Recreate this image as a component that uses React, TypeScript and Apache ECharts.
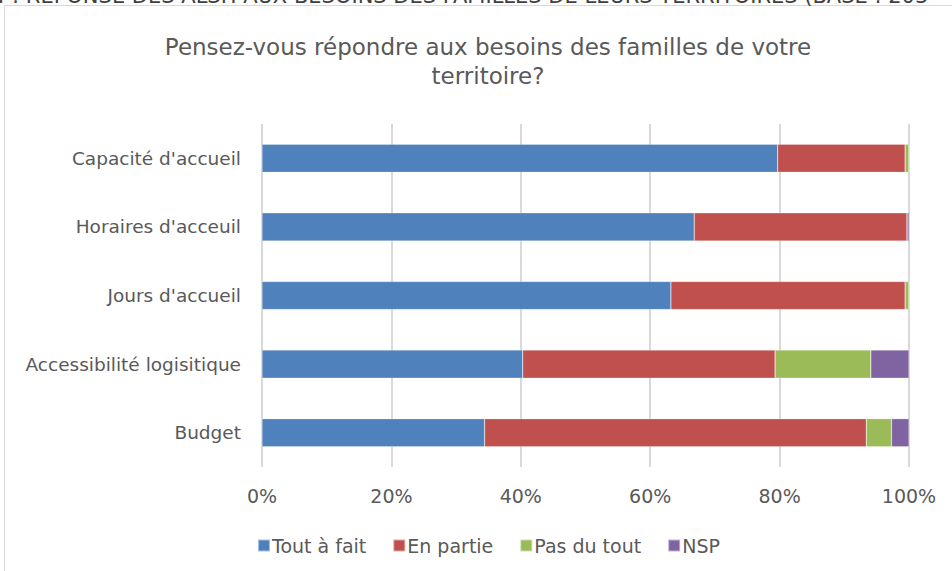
import React, { useEffect, useRef } from "react";
import * as echarts from "echarts";

const categories = [
  "Budget",
  "Accessibilité logisitique",
  "Jours d'accueil",
  "Horaires d'acceuil",
  "Capacité d'accueil",
];
const toutAFait = [34.4, 40.3, 63.2, 66.8, 79.7];
const enPartie = [59.0, 39.0, 36.2, 32.9, 19.7];
const pasDuTout = [3.9, 14.8, 0.6, 0, 0.6];
const nsp = [2.7, 5.9, 0, 0.3, 0];
const seriesNames = ["Tout à fait", "En partie", "Pas du tout", "NSP"];
const colors = ["#4F81BD", "#C0504D", "#9BBB59", "#8064A2"];
const titleText = "Pensez-vous répondre aux besoins des familles de votre\nterritoire?";
const headerText =
  "4 : RÉPONSE DES ALSH AUX BESOINS DES FAMILLES DE LEURS TERRITOIRES (BASE : 203";

const FONT = "DejaVu Sans";
const GRAY = "#595959";

export default function App() {
  const ref = useRef<HTMLDivElement>(null);
  useEffect(() => {
    if (!ref.current) return;
    const chart = echarts.init(ref.current, undefined, { renderer: "svg" });
    const values = [toutAFait, enPartie, pasDuTout, nsp];
    chart.setOption({
      animation: false,
      backgroundColor: "#ffffff",
      textStyle: { fontFamily: FONT },
      graphic: [
        {
          type: "rect",
          shape: { x: 4.5, y: 5.5, width: 1000, height: 700 },
          style: { fill: "none", stroke: "#D9D9D9", lineWidth: 1 },
          silent: true,
        },
        {
          type: "text",
          x: -8,
          y: -4,
          style: {
            text: headerText,
            font: `21px "${FONT}"`,
            fill: "#404040",
            textAlign: "left",
            textVerticalAlign: "middle",
          },
          silent: true,
        },
        {
          type: "text",
          x: 488,
          y: 32,
          style: {
            text: titleText,
            font: `23px "${FONT}"`,
            fill: GRAY,
            textAlign: "center",
            textVerticalAlign: "top",
            lineHeight: 29,
          },
          silent: true,
        },
      ],
      legend: {
        data: seriesNames,
        left: 252,
        top: 531,
        icon: "rect",
        itemWidth: 12,
        itemHeight: 12,
        itemGap: 26,
        textStyle: { fontSize: 19, color: GRAY, fontFamily: FONT, padding: [0, 0, 0, -3] },
      },
      grid: { left: 262, right: 43, top: 124, bottom: 104, containLabel: false },
      xAxis: {
        type: "value",
        min: 0,
        max: 100,
        interval: 20,
        axisLabel: {
          formatter: "{value}%",
          fontSize: 19,
          color: GRAY,
          fontFamily: FONT,
          margin: 19,
        },
        axisLine: { show: false },
        axisTick: { show: false },
        splitLine: { lineStyle: { color: "#D9D9D9", width: 2 } },
      },
      yAxis: {
        type: "category",
        data: categories,
        axisLabel: { fontSize: 18.5, color: GRAY, fontFamily: FONT, margin: 21 },
        axisLine: { show: false },
        axisTick: { show: false },
        splitLine: { show: false },
      },
      series: seriesNames.map((name, i) => ({
        name,
        type: "bar",
        stack: "total",
        barWidth: "41%",
        data: values[i],
        itemStyle: { color: colors[i], borderColor: "rgba(255,255,255,0.5)", borderWidth: 0.5 },
      })),
    });
    return () => chart.dispose();
  }, []);
  return (
    <div
      ref={ref}
      style={{ position: "absolute", left: 0, top: 0, width: 952, height: 571 }}
    />
  );
}
